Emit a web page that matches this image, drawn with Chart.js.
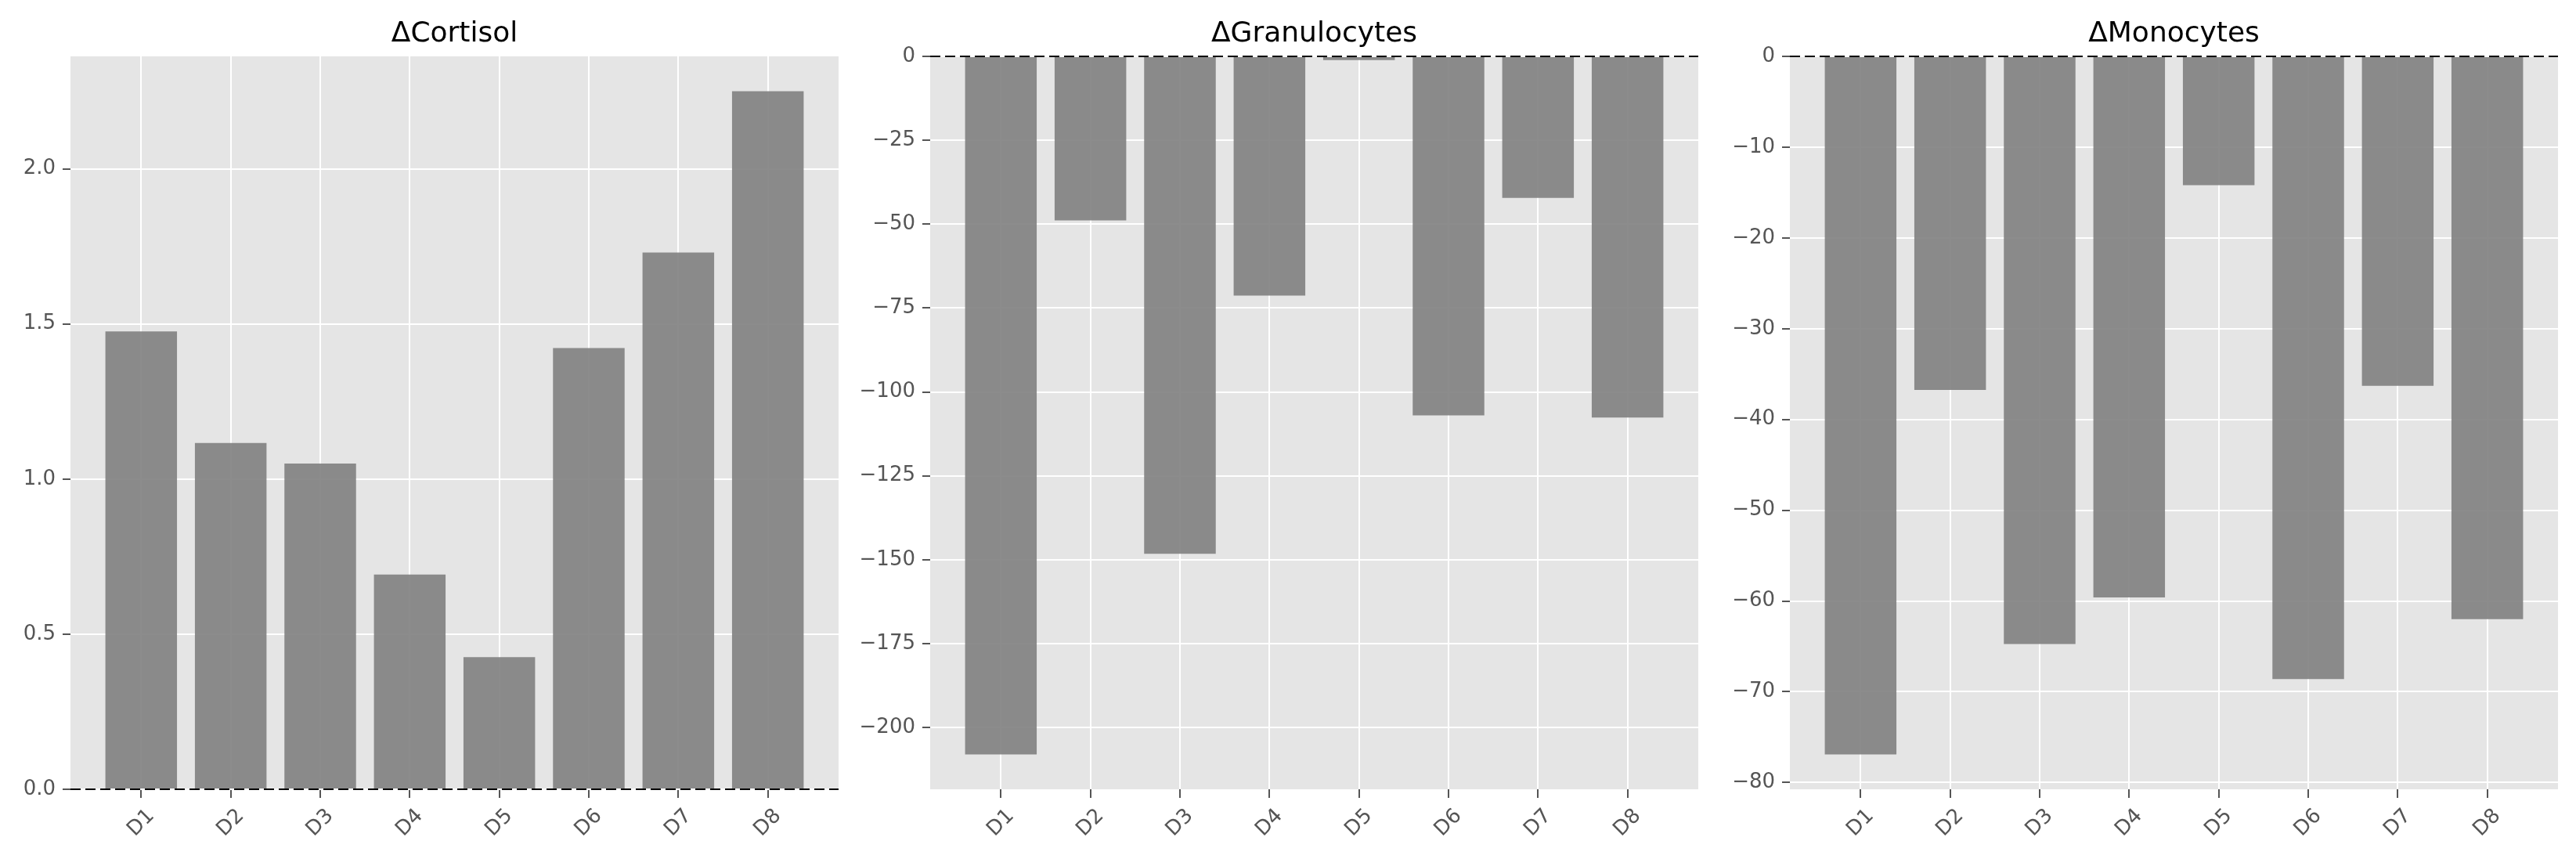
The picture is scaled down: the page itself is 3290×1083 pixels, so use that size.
<!DOCTYPE html>
<html>
<head>
<meta charset="utf-8">
<script src="https://cdn.jsdelivr.net/npm/chart.js@4/dist/chart.umd.min.js"></script>
<style>
  html, body { margin: 0; padding: 0; background: #fff; }
  body { width: 3290px; height: 1083px; position: relative; overflow: hidden; }
  canvas { position: absolute; top: 0; }
</style>
</head>
<body>
<canvas id="cortisol" width="1097" height="1083" style="left:0px"></canvas>
<canvas id="granulocytes" width="1097" height="1083" style="left:1097px"></canvas>
<canvas id="monocytes" width="1096" height="1083" style="left:2194px"></canvas>
<script>
const donors = ['D1', 'D2', 'D3', 'D4', 'D5', 'D6', 'D7', 'D8'];

const cortisol = [1.476, 1.116, 1.050, 0.692, 0.426, 1.422, 1.730, 2.250];
const granulocytes = [-208.0, -48.9, -148.2, -71.3, -1.1, -107.0, -42.2, -107.6];
const monocytes = [-76.9, -36.75, -64.75, -59.6, -14.2, -68.6, -36.3, -62.0];

const cortisolTicks = [0, 0.5, 1.0, 1.5, 2.0];
const granulocyteTicks = [-200, -175, -150, -125, -100, -75, -50, -25, 0];
const monocyteTicks = [-80, -70, -60, -50, -40, -30, -20, -10, 0];

Chart.defaults.font.family = 'DejaVu Sans';
Chart.defaults.color = '#555555';

// dashed zero line + centred 45deg x labels, like the matplotlib version
const zeroLine = {
  id: 'zeroLine',
  afterDatasetsDraw(chart) {
    const ctx = chart.ctx;
    const area = chart.chartArea;
    const y = chart.scales.y.getPixelForValue(0);
    ctx.save();
    ctx.strokeStyle = '#000';
    ctx.lineWidth = 2;
    ctx.setLineDash([13, 6]);
    ctx.beginPath();
    ctx.moveTo(area.left, y);
    ctx.lineTo(area.right, y);
    ctx.stroke();
    ctx.restore();
  },
  afterDraw(chart) {
    const ctx = chart.ctx;
    const xs = chart.scales.x;
    ctx.save();
    ctx.fillStyle = '#555555';
    ctx.font = '26px "DejaVu Sans"';
    ctx.textAlign = 'center';
    ctx.textBaseline = 'middle';
    donors.forEach((d, i) => {
      ctx.save();
      ctx.translate(xs.getPixelForValue(i), chart.chartArea.bottom + 43);
      ctx.rotate(-Math.PI / 4);
      ctx.fillText(d, 0, 0);
      ctx.restore();
    });
    ctx.restore();
  }
};

const makeChart = (id, title, values, ticks, decimals, leftW, rightPad) => {
  let lo = Math.min(0, ...values);
  let hi = Math.max(0, ...values);
  const span = hi - lo;
  const yMin = lo < 0 ? lo - 0.05 * span : 0;
  const yMax = hi > 0 ? hi + 0.05 * span : 0;

  const ctx = document.getElementById(id).getContext('2d');
  return new Chart(ctx, {
    type: 'bar',
    data: {
      datasets: [{
        data: values.map((v, i) => ({ x: i, y: v })),
        backgroundColor: 'rgba(127, 127, 127, 0.9)',
        borderWidth: 0,
        barPercentage: 0.8,
        categoryPercentage: 1.0
      }]
    },
    options: {
      responsive: false,
      devicePixelRatio: 1,
      animation: false,
      layout: { padding: { left: 0, right: rightPad, top: 0, bottom: 0 } },
      plugins: {
        legend: { display: false },
        tooltip: { enabled: false },
        title: {
          display: true,
          fullSize: false,
          text: title,
          color: '#000',
          font: { size: 36, weight: 'normal' },
          padding: { top: 22, bottom: 6.8 }
        }
      },
      scales: {
        x: {
          type: 'linear',
          offset: false,
          min: -0.79,
          max: 7.79,
          afterBuildTicks: s => { s.ticks = donors.map((d, i) => ({ value: i })); },
          afterFit: s => { s.height = 75; },
          ticks: { display: false },
          grid: { offset: false, color: '#ffffff', lineWidth: 2, drawTicks: true, tickLength: 11, tickColor: '#555555', tickWidth: 2 },
          border: { display: false }
        },
        y: {
          min: yMin,
          max: yMax,
          afterBuildTicks: s => { s.ticks = ticks.map(v => ({ value: v })); },
          afterFit: s => { s.width = leftW; },
          ticks: {
            font: { size: 26 },
            color: '#555555',
            padding: 9,
            callback: v => v.toFixed(decimals).replace('-', '\u2212')
          },
          grid: { color: '#ffffff', lineWidth: 2, drawTicks: true, tickLength: 10, tickColor: '#555555', tickWidth: 2 },
          border: { display: false }
        }
      }
    },
    plugins: [
      {
        id: 'panelBg',
        beforeDraw(chart) {
          const a = chart.chartArea;
          chart.ctx.save();
          chart.ctx.fillStyle = '#e5e5e5';
          chart.ctx.fillRect(a.left, a.top, a.right - a.left, a.bottom - a.top);
          chart.ctx.restore();
        }
      },
      zeroLine
    ]
  });
};

makeChart('cortisol', '\u0394Cortisol', cortisol, cortisolTicks, 1, 90, 26);
makeChart('granulocytes', '\u0394Granulocytes', granulocytes, granulocyteTicks, 0, 91, 25);
makeChart('monocytes', '\u0394Monocytes', monocytes, monocyteTicks, 0, 92, 23);
</script>
</body>
</html>
